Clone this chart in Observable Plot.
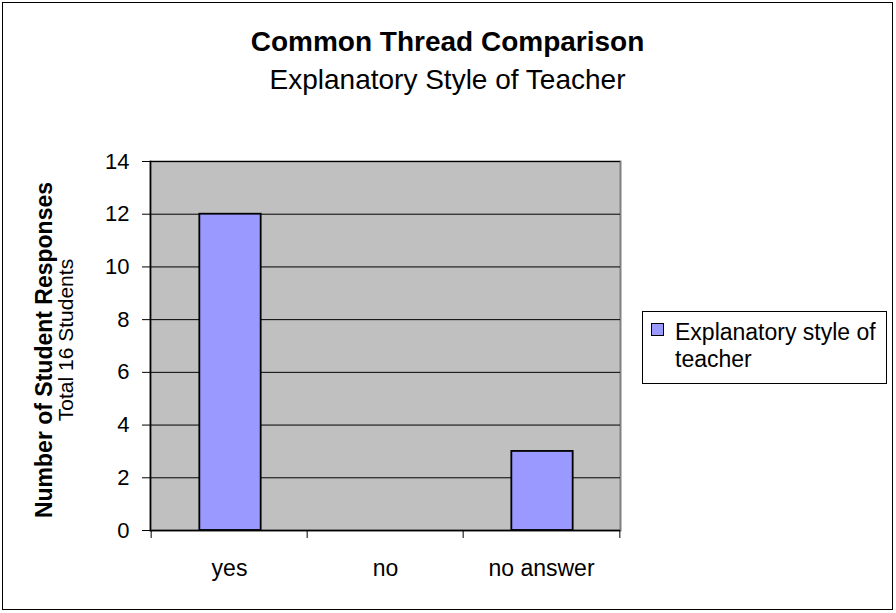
<!DOCTYPE html>
<html>
<head>
<meta charset="utf-8">
<script src="https://cdn.jsdelivr.net/npm/d3@7"></script>
<script src="https://cdn.jsdelivr.net/npm/@observablehq/plot@0.6"></script>
<style>
  html, body { margin: 0; padding: 0; background: #fff; }
  #wrap { position: relative; width: 896px; height: 613px; font-family: "Liberation Sans", Arial, sans-serif; color: #000; overflow: hidden; }
  #wrap svg { position: absolute; left: 0; top: 0; }
  .abs { position: absolute; white-space: nowrap; }
  #border { position: absolute; left: 2px; top: 2px; width: 891px; height: 608px; border: 1.5px solid #000; box-sizing: border-box; }
  #title { left: 0; width: 895px; text-align: center; top: 26px; font-size: 28px; font-weight: bold; }
  #subtitle { left: 0; width: 895px; text-align: center; top: 64px; font-size: 28px; }
  .ytitle { transform-origin: center center; transform: translate(-50%, -50%) rotate(-90deg); }
  #ytitle1 { left: 43.5px; top: 350px; font-size: 23px; font-weight: bold; }
  #ytitle2 { left: 65.7px; top: 340px; font-size: 21px; }
  #legend { left: 642px; top: 311px; width: 245px; height: 73px; border: 1px solid #000; box-sizing: border-box; background: #fff; }
  #legend .sw { position: absolute; left: 8px; top: 11px; width: 13px; height: 13px; border: 1.5px solid #000; background: #9999ff; box-sizing: border-box; }
  #legend .lt { position: absolute; left: 32px; top: 6.5px; font-size: 23px; line-height: 27px; white-space: normal; width: 211px; }
</style>
</head>
<body>
<div id="wrap">
  <div id="border"></div>
</div>
<script>
// ---- data ----
const categories = ["yes", "no", "no answer"];
const responses = [12, 0, 3];
const yTicks = [0, 2, 4, 6, 8, 10, 12, 14];
const seriesName = "Explanatory style of teacher";
const chartTitle = "Common Thread Comparison";
const chartSubtitle = "Explanatory Style of Teacher";
const yAxisTitle = "Number of Student Responses";
const yAxisSubtitle = "Total 16 Students";

const data = categories.map((c, i) => ({category: c, value: responses[i]}));

const W = 896, H = 613;
const mL = 150, mR = 276, mT = 161, mB = 83;
const step = (W - mL - mR) / categories.length;
const barWidth = 62;
const inset = (step - barWidth) / 2;

const chart = Plot.plot({
  width: W,
  height: H,
  marginLeft: mL,
  marginRight: mR,
  marginTop: mT,
  marginBottom: mB,
  style: {fontFamily: "'Liberation Sans', Arial, sans-serif", fontSize: "22px", color: "#000", background: "transparent"},
  x: {type: "band", domain: categories, padding: 0, label: null},
  y: {domain: [0, 14], label: null},
  marks: [
    Plot.frame({fill: "#c0c0c0", stroke: "#808080", strokeWidth: 2}),
    Plot.ruleY(yTicks, {stroke: "#000", strokeWidth: 1}),
    Plot.barY(data, {x: "category", y: "value", fill: "#9999ff", stroke: "#000", strokeWidth: 1.8, insetLeft: inset + 1, insetRight: inset - 1}),
    Plot.ruleY([0], {stroke: "#000", strokeWidth: 1.5}),
    Plot.frame({anchor: "left", stroke: "#000", strokeWidth: 1.5}),
    Plot.axisY({ticks: yTicks, tickSize: 8, tickPadding: 13, fontSize: 22, stroke: "#000", label: null}),
    Plot.axisX({tickSize: 0, tickPadding: 29, fontSize: 23, label: null}),
    Plot.ruleX(categories, {x: d => d, y1: 0, y2: 0, insetBottom: -8, dx: -step / 2, stroke: "#000"}),
    Plot.ruleX(categories.slice(-1), {x: d => d, y1: 0, y2: 0, insetBottom: -8, dx: step / 2, stroke: "#000"})
  ]
});

const wrap = document.getElementById("wrap");
wrap.appendChild(chart);

function addText(id, cls, text) {
  const d = document.createElement("div");
  d.id = id;
  d.className = cls;
  d.textContent = text;
  wrap.appendChild(d);
  return d;
}
addText("title", "abs", chartTitle);
addText("subtitle", "abs", chartSubtitle);
addText("ytitle1", "abs ytitle", yAxisTitle);
addText("ytitle2", "abs ytitle", yAxisSubtitle);

const legend = document.createElement("div");
legend.id = "legend";
legend.className = "abs";
const sw = document.createElement("div");
sw.className = "sw";
const lt = document.createElement("div");
lt.className = "lt";
lt.textContent = seriesName;
legend.appendChild(sw);
legend.appendChild(lt);
wrap.appendChild(legend);
</script>
</body>
</html>
